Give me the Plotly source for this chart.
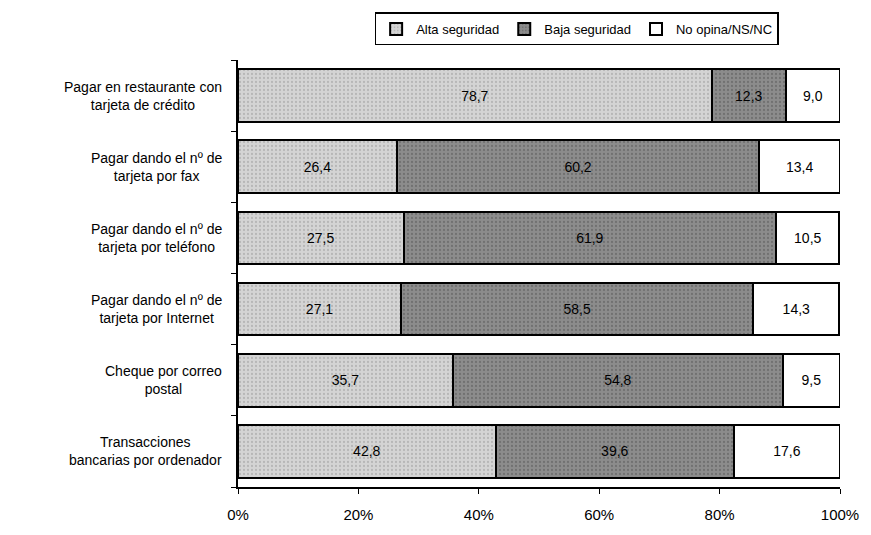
import plotly.graph_objects as go

categorias = [
    "Pagar en restaurante con<br>tarjeta de crédito",
    "Pagar dando el nº de<br>tarjeta por fax",
    "Pagar dando el nº de<br>tarjeta por teléfono",
    "Pagar dando el nº de<br>tarjeta por Internet",
    "Cheque por correo<br>postal",
    "Transacciones<br>bancarias por ordenador",
]
alta = [78.7, 26.4, 27.5, 27.1, 35.7, 42.8]
baja = [12.3, 60.2, 61.9, 58.5, 54.8, 39.6]
no_opina = [9.0, 13.4, 10.5, 14.3, 9.5, 17.6]
ticks_x = [0, 20, 40, 60, 80, 100]
ticks_x_text = ["0%", "20%", "40%", "60%", "80%", "100%"]

FONT = "Liberation Sans, Arial, sans-serif"

def etiquetas(vals):
    return [f"{v:.1f}".replace(".", ",") for v in vals]

series = [
    ("Alta seguridad", alta, "#d4d4d4", "#9a9a9a"),
    ("Baja seguridad", baja, "#8c8c8c", "#555555"),
    ("No opina/NS/NC", no_opina, "#ffffff", None),
]

fig = go.Figure()
for nombre, vals, color, punto in series:
    marker = dict(color=color, line=dict(color="#000000", width=2))
    if punto:
        marker["pattern"] = dict(shape=".", fgcolor=punto, size=4, solidity=0.25)
    fig.add_trace(go.Bar(
        name=nombre,
        y=categorias,
        x=vals,
        orientation="h",
        marker=marker,
        text=etiquetas(vals),
        textposition="inside",
        insidetextanchor="middle",
        textfont=dict(family=FONT, size=14, color="#000000"),
        cliponaxis=False,
    ))

# Category labels, centred line by line to the left of the axis
for cat in categorias:
    fig.add_annotation(
        x=0, y=cat, xref="paper", yref="y",
        xanchor="right", xshift=-14,
        text=cat, showarrow=False, align="center",
        font=dict(family=FONT, size=14, color="#000000"),
    )

fig.update_layout(
    barmode="stack",
    bargap=0.26,
    width=871, height=535,
    margin=dict(l=238, r=25, t=58, b=37),
    paper_bgcolor="#ffffff",
    plot_bgcolor="#ffffff",
    font=dict(family=FONT, size=14, color="#000000"),
    uniformtext=dict(mode="show", minsize=12),
    legend=dict(
        orientation="h",
        traceorder="normal",
        x=0.5625, xanchor="center",
        y=1.034, yanchor="bottom",
        bordercolor="#000000", borderwidth=1.5,
        font=dict(family=FONT, size=13),
        itemwidth=30,
    ),
    xaxis=dict(
        range=[0, 100],
        tickvals=ticks_x, ticktext=ticks_x_text,
        ticks="outside", ticklen=5, tickcolor="#000000",
        ticklabelstandoff=8,
        showline=True, linecolor="#000000", linewidth=2,
        showgrid=False, zeroline=False,
        tickfont=dict(family=FONT, size=15),
    ),
    yaxis=dict(
        categoryorder="array", categoryarray=categorias[::-1],
        showticklabels=False,
        ticks="outside", ticklen=5, tickcolor="#000000",
        tickson="boundaries",
        showline=True, linecolor="#000000", linewidth=2,
        showgrid=False,
    ),
)

fig.write_html("out.html")
